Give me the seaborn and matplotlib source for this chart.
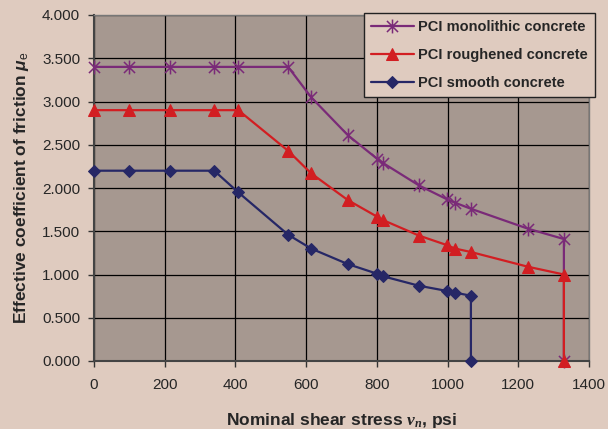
import matplotlib
matplotlib.use("Agg")
import matplotlib.pyplot as plt
from matplotlib.path import Path
import seaborn as sns
import pandas as pd

# shear stress values (psi)
stress = [0, 100, 214, 340, 408, 549, 614, 718, 800, 817, 919, 998, 1021, 1066, 1227, 1329, 1329]
stress_smooth = [0, 100, 214, 340, 408, 549, 614, 718, 800, 817, 919, 998, 1021, 1066, 1066]

mu_monolithic = [3.40, 3.40, 3.40, 3.40, 3.40, 3.40, 3.05, 2.61, 2.34, 2.29, 2.03, 1.87, 1.83, 1.76, 1.53, 1.41, 0.0]
mu_roughened = [2.90, 2.90, 2.90, 2.90, 2.90, 2.43, 2.17, 1.86, 1.67, 1.63, 1.45, 1.34, 1.30, 1.26, 1.09, 1.00, 0.0]
mu_smooth = [2.20, 2.20, 2.20, 2.20, 1.95, 1.46, 1.30, 1.12, 1.01, 0.98, 0.87, 0.81, 0.79, 0.755, 0.0]

bg = "#dfcbbf"
plot_bg = "#a69890"

# excel-style star marker: an x with a vertical bar
star = Path([(-1, -1), (1, 1), (-1, 1), (1, -1), (0, -1.25), (0, 1.25)],
            [Path.MOVETO, Path.LINETO, Path.MOVETO, Path.LINETO, Path.MOVETO, Path.LINETO])

sns.set_style("white")
plt.rcParams["font.family"] = ["Liberation Sans", "DejaVu Sans"]
plt.rcParams["mathtext.fontset"] = "custom"
plt.rcParams["mathtext.it"] = "Liberation Serif:italic:bold"
plt.rcParams["mathtext.sf"] = "Liberation Sans:italic:bold"
plt.rcParams["mathtext.rm"] = "Liberation Sans"

fig = plt.figure(figsize=(6.08, 4.29), dpi=100, facecolor=bg)
ax = fig.add_axes([94 / 608, 1 - 361 / 429, 495 / 608, 346 / 429])
ax.set_facecolor(plot_bg)

df_mono = pd.DataFrame({"x": stress, "y": mu_monolithic})
df_rough = pd.DataFrame({"x": stress, "y": mu_roughened})
df_smooth = pd.DataFrame({"x": stress_smooth, "y": mu_smooth})

sns.lineplot(data=df_mono, x="x", y="y", ax=ax, sort=False, estimator=None,
             color="#7a2a78", lw=1.6, marker=star, markersize=10, mew=1.1,
             mec="#7a2a78", label="PCI monolithic concrete", clip_on=False, zorder=3)
sns.lineplot(data=df_rough, x="x", y="y", ax=ax, sort=False, estimator=None,
             color="#d21e22", lw=1.6, marker="^", markersize=8, mec="#d21e22",
             label="PCI roughened concrete", clip_on=False, zorder=4)
sns.lineplot(data=df_smooth, x="x", y="y", ax=ax, sort=False, estimator=None,
             color="#262766", lw=1.6, marker="D", markersize=6, mec="#262766",
             label="PCI smooth concrete", clip_on=False, zorder=5)

ax.set_xlim(0, 1400)
ax.set_ylim(0, 4)
ax.set_xticks(range(0, 1401, 200))
ax.set_yticks([i * 0.5 for i in range(9)])
ax.set_yticklabels([f"{i * 0.5:.3f}" for i in range(9)])
ax.tick_params(labelsize=11, length=4, width=1, color="#333333", direction="out",
               bottom=True, left=True)
ax.tick_params(axis="x", pad=8)
ax.tick_params(axis="y", pad=6)
ax.grid(True, color="black", lw=0.9)
ax.set_axisbelow(True)
for s in ["left", "bottom"]:
    ax.spines[s].set_color("#444444")
    ax.spines[s].set_linewidth(1.5)
for s in ["top", "right"]:
    ax.spines[s].set_color("#777777")
    ax.spines[s].set_linewidth(1)

ax.set_xlabel(r"Nominal shear stress $v_n$, psi", fontsize=12.5, fontweight="bold", labelpad=14)
ax.set_ylabel(r"Effective coefficient of friction $\mathsf{\mu}_\mathrm{e}$", fontsize=12.5,
              fontweight="bold", labelpad=8)

leg = ax.legend(loc="upper right", bbox_to_anchor=(595 / 608, 1 - 13 / 429),
                bbox_transform=fig.transFigure, borderaxespad=0, frameon=True,
                fancybox=False, facecolor=bg, edgecolor="#222222", framealpha=1,
                prop={"weight": "bold", "size": 10.5}, handlelength=2.9,
                labelspacing=0.95, borderpad=0.5, handletextpad=0.3)
leg.get_frame().set_linewidth(1)
leg.set_zorder(10)

fig.savefig("out.png", dpi=100, facecolor=bg)
